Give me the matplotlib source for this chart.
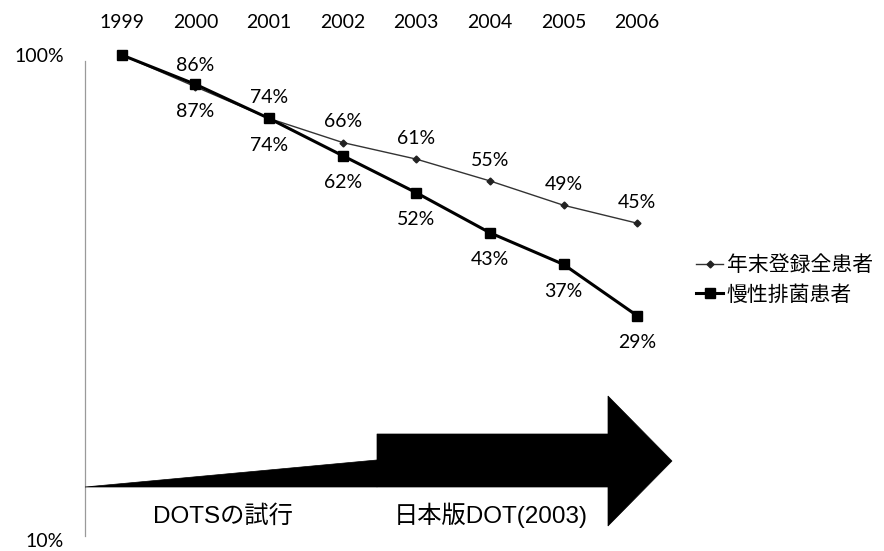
import matplotlib
matplotlib.use("Agg")
import matplotlib.pyplot as plt
from matplotlib.patches import Polygon

years = ["1999", "2000", "2001", "2002", "2003", "2004", "2005", "2006"]
all_registered = [100, 86, 74, 66, 61, 55, 49, 45]      # 年末登録全患者 (%)
chronic_excretors = [100, 87, 74, 62, 52, 43, 37, 29]   # 慢性排菌患者 (%)
series_names = ["年末登録全患者", "慢性排菌患者"]
phase_labels = ["DOTSの試行", "日本版DOT(2003)"]

num_font = "Lato"
cjk = ["Noto Sans CJK JP", "DejaVu Sans"]
mixed = ["Liberation Sans", "Noto Sans CJK JP"]

fig = plt.figure(figsize=(8.84, 5.51), dpi=100)
ax = fig.add_axes([85 / 884, 11 / 551, 589 / 884, 485 / 551])

x = list(range(len(years)))
frac_all = [v / 100 for v in all_registered]
frac_chr = [v / 100 for v in chronic_excretors]

ax.plot(x, frac_all, color="#333333", lw=1.0, marker="D", ms=3.5,
        mfc="#222222", mec="#222222", label=series_names[0], clip_on=False, zorder=4)
ax.plot(x, frac_chr, color="black", lw=2.2, marker="s", ms=7,
        mfc="black", mec="black", label=series_names[1], clip_on=False, zorder=5)

ax.set_yscale("log")
ax.set_ylim(0.1, 1.0)
ax.set_xlim(-0.5, len(years) - 0.5)

# value labels: total patients above, chronic excretors below (skip first year)
for i in range(1, len(years)):
    ax.annotate(f"{all_registered[i]}%", (x[i], frac_all[i]), xytext=(0, 15),
                textcoords="offset points", ha="center", va="center",
                fontsize=14, family=num_font)
    ax.annotate(f"{chronic_excretors[i]}%", (x[i], frac_chr[i]), xytext=(0, -19.5),
                textcoords="offset points", ha="center", va="center",
                fontsize=14, family=num_font)

# year categories along the top
ax.xaxis.tick_top()
ax.set_xticks(x)
ax.set_xticklabels(years, fontsize=14, family=num_font)
ax.tick_params(axis="x", length=0, pad=17)

ax.yaxis.set_major_locator(matplotlib.ticker.FixedLocator([0.1, 1.0]))
ax.yaxis.set_minor_locator(matplotlib.ticker.NullLocator())
ax.set_yticklabels(["10%", "100%"], fontsize=14, family=num_font)
ax.tick_params(axis="y", length=0, pad=15)

for s in ["top", "right", "bottom"]:
    ax.spines[s].set_visible(False)
ax.spines["left"].set_color("#9a9a9a")
ax.spines["left"].set_linewidth(0.9)
ax.spines["left"].set_bounds(0.102, 0.97)

# phase arrows drawn in pixel space
def px(xp, yp):
    return (xp, 551 - yp)

wedge = Polygon([px(85, 487), px(377, 460), px(377, 487)], closed=True,
                transform=None, facecolor="black", edgecolor="black", lw=0.5)
big = Polygon([px(377, 434), px(608, 434), px(608, 396), px(672, 461),
               px(608, 526), px(608, 487), px(377, 487)], closed=True,
              transform=None, facecolor="black", edgecolor="black", lw=0.5)
fig.patches.extend([wedge, big])

fig.text(223 / 884, 1 - 517 / 551, phase_labels[0], ha="center", va="center",
         fontsize=17.5, family=mixed)
fig.text(491 / 884, 1 - 515 / 551, phase_labels[1], ha="center", va="center",
         fontsize=17.5, family=mixed)

leg = fig.legend(loc="center left", bbox_to_anchor=(688 / 884, 1 - 280 / 551),
                 frameon=False, prop={"family": cjk, "size": 15},
                 handlelength=1.3, handletextpad=0.15, labelspacing=0.35,
                 borderaxespad=0)

fig.savefig("out.png", dpi=100)
